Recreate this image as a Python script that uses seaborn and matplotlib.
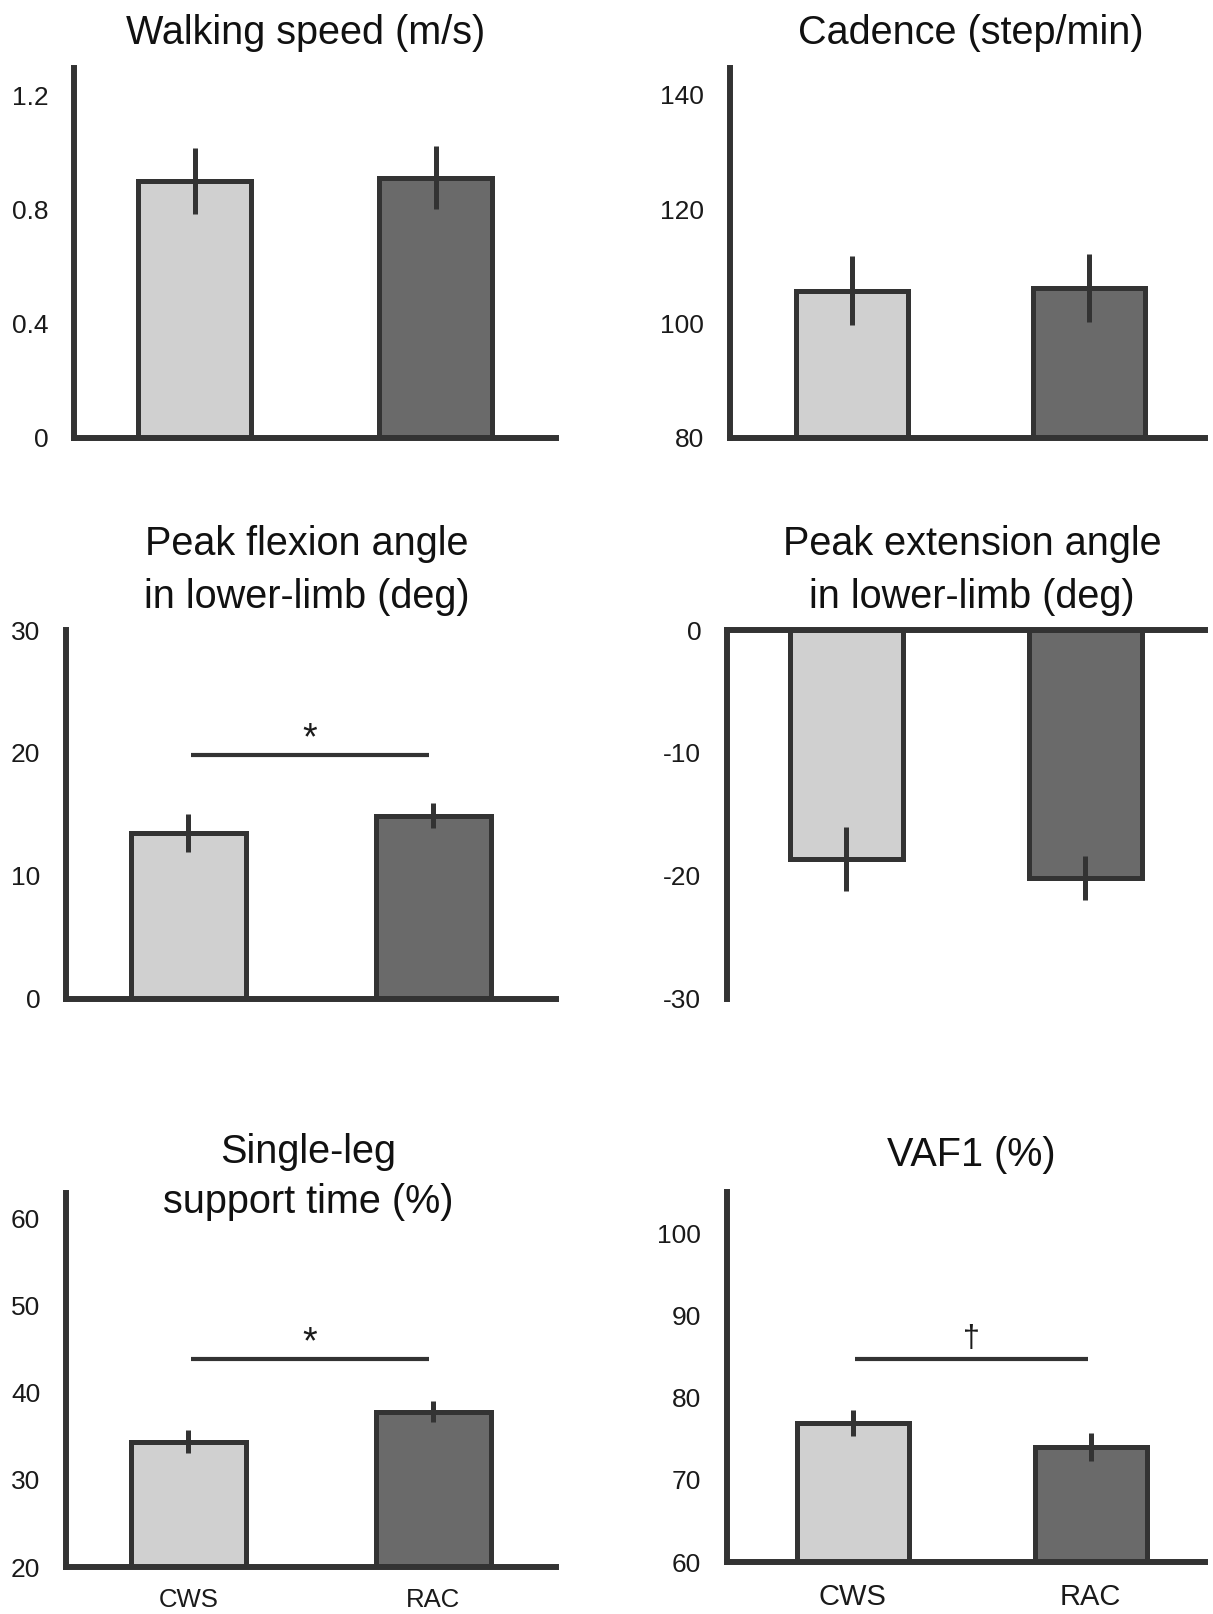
import pandas as pd
import seaborn as sns
import matplotlib.pyplot as plt

sns.set_style("white")
plt.rcParams['font.family'] = ['Liberation Sans', 'DejaVu Sans']

groups = ["CWS", "RAC"]

speed_mean = [0.90, 0.91]
speed_sd = [0.115, 0.11]
cadence_mean = [105.7, 106.2]
cadence_sd = [6.0, 6.0]
flex_mean = [13.5, 14.9]
flex_sd = [1.55, 1.0]
ext_mean = [-18.6, -20.2]
ext_sd = [2.6, 1.8]
single_mean = [34.4, 37.8]
single_sd = [1.3, 1.2]
vaf_mean = [76.9, 74.0]
vaf_sd = [1.55, 1.7]

# significance bars: (height, symbol)
flex_sig = (19.8, "*")
single_sig = (43.8, "*")
vaf_sig = (84.7, "\u2020")

EDGE = "#333333"
palette = {"CWS": "#d0d0d0", "RAC": "#6a6a6a"}

fig = plt.figure(figsize=(12.13, 16.14), dpi=100)


def panel(rect, means, sds, ylim, ticks, ticklabels, xlim=(-0.5, 1.5),
          top_axis=False, xlabels=False, xlabelsize=19):
    ax = fig.add_axes(rect)
    df = pd.DataFrame({"group": groups, "value": means})
    sns.barplot(data=df, x="group", y="value", hue="group", palette=palette,
                width=0.47, edgecolor=EDGE, linewidth=3.6, errorbar=None,
                legend=False, ax=ax)
    ax.errorbar(range(len(groups)), means, yerr=sds, fmt="none", ecolor=EDGE,
                elinewidth=3.6, capsize=0, zorder=5)
    ax.set_xlim(*xlim)
    ax.set_ylim(*ylim)
    ax.set_yticks(ticks)
    ax.set_yticklabels(ticklabels)
    ax.set_xlabel("")
    ax.set_ylabel("")
    for s in ["top", "right", "bottom", "left"]:
        ax.spines[s].set_visible(False)
    ax.spines["left"].set_visible(True)
    main = "top" if top_axis else "bottom"
    ax.spines[main].set_visible(True)
    for s in ["left", main]:
        ax.spines[s].set_linewidth(4.3)
        ax.spines[s].set_color(EDGE)
    ax.tick_params(axis="y", direction="out", length=4.5, width=4, color=EDGE,
                   pad=14, labelsize=19, labelcolor="#1a1a1a")
    ax.tick_params(axis="x", length=0, pad=15, labelsize=xlabelsize,
                   labelcolor="#1a1a1a", labelbottom=xlabels, labeltop=False)
    ax.set_facecolor("white")
    return ax


def sig(ax, x0, x1, info, size=27, off=-1):
    y, sym = info
    ax.plot([x0, x1], [y, y], color=EDGE, lw=3, solid_capstyle="butt", zorder=6)
    ax.annotate(sym, xy=((x0 + x1) / 2, y), xytext=(0, off), textcoords="offset points",
                ha="center", va="bottom", fontsize=size, color="#1a1a1a")


ax1 = panel([0.0610, 0.7289, 0.3974, 0.2290], speed_mean, speed_sd, (0, 1.295),
            [0, 0.4, 0.8, 1.2], ["0", "0.4", "0.8", "1.2"])
ax2 = panel([0.6018, 0.7289, 0.3916, 0.2290], cadence_mean, cadence_sd, (80, 144.7),
            [80, 100, 120, 140], ["80", "100", "120", "140"], xlim=(-0.515, 1.49))
ax3 = panel([0.0543, 0.3812, 0.4040, 0.2284], flex_mean, flex_sd, (0, 30),
            [0, 10, 20, 30], ["0", "10", "20", "30"])
ax4 = panel([0.5993, 0.3812, 0.3940, 0.2284], ext_mean, ext_sd, (-30, 0),
            [-30, -20, -10, 0], ["-30", "-20", "-10", "0"], top_axis=True)
ax5 = panel([0.0543, 0.0290, 0.4040, 0.2320], single_mean, single_sd, (20, 62.9),
            [20, 30, 40, 50, 60], ["20", "30", "40", "50", "60"], xlabels=True, xlabelsize=18.5)
ax6 = panel([0.5993, 0.0322, 0.3940, 0.2290], vaf_mean, vaf_sd, (60, 105),
            [60, 70, 80, 90, 100], ["60", "70", "80", "90", "100"], xlim=(-0.528, 1.48),
            xlabels=True, xlabelsize=21)

sig(ax3, 0.01, 0.98, flex_sig)
sig(ax5, 0.01, 0.98, single_sig)
sig(ax6, 0.01, 0.99, vaf_sig, size=22, off=4)

tkw = dict(ha="center", va="center", fontsize=28.5, color="#111111")
fig.text(0.2522, 0.9796, "Walking speed (m/s)", **tkw)
fig.text(0.8005, 0.9796, "Cadence (step/min)", **tkw)
fig.text(0.2530, 0.6465, "Peak flexion angle\nin lower-limb (deg)", linespacing=1.5, **tkw)
fig.text(0.8013, 0.6465, "Peak extension angle\nin lower-limb (deg)", linespacing=1.5, **tkw)
fig.text(0.2538, 0.2708, "Single-leg\nsupport time (%)", linespacing=1.38, **tkw)
fig.text(0.8005, 0.2843, "VAF1 (%)", **tkw)

fig.savefig("out.png", dpi=100, facecolor="white")
